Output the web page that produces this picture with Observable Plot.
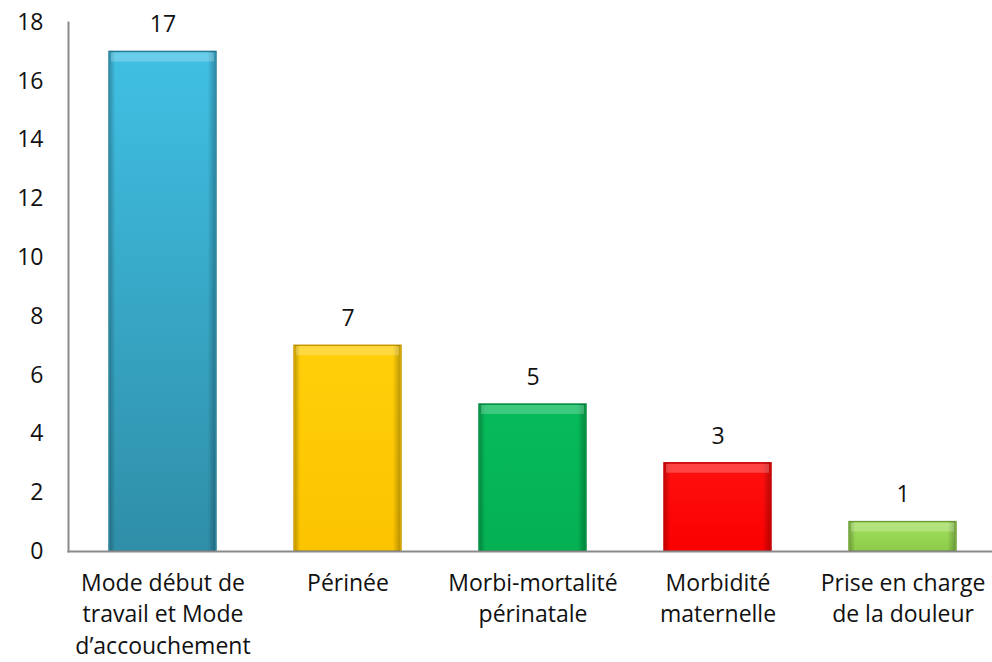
<!DOCTYPE html>
<html>
<head>
<meta charset="utf-8">
<script src="https://cdn.jsdelivr.net/npm/d3@7"></script>
<script src="https://cdn.jsdelivr.net/npm/@observablehq/plot@0.6"></script>
<style>
  html, body { margin: 0; padding: 0; background: #fff; }
  svg { display: block; }
</style>
</head>
<body>
<div id="chart"></div>
<script>
const categories = [
  "Mode début de\ntravail et Mode\nd’accouchement",
  "Périnée",
  "Morbi-mortalité\npérinatale",
  "Morbidité\nmaternelle",
  "Prise en charge\nde la douleur"
];
const values = [17, 7, 5, 3, 1];
const yTicks = [0, 2, 4, 6, 8, 10, 12, 14, 16, 18];
const gradTop = ["#40c0e4", "#ffcf0a", "#07bb5a", "#ff1010", "#a2e05e"];
const gradBottom = ["#2f8ea8", "#fcc400", "#04b052", "#fa0000", "#8ccc48"];
const strokes = ["#2a7f98", "#c99a00", "#058a42", "#c40000", "#6f9e36"];

const data = categories.map((c, i) => ({cat: c, value: values[i], i}));

const chart = Plot.plot({
  width: 992,
  height: 662,
  marginLeft: 68,
  marginRight: 0,
  marginTop: 22,
  marginBottom: 111,
  style: {fontFamily: "'Open Sans', Lato, sans-serif", fontSize: "23px", color: "#111", background: "#fff"},
  x: {domain: categories, paddingInner: 0.42, paddingOuter: 0.194, align: 0.54, label: null},
  y: {domain: [0, 18], label: null},
  marks: [
    Plot.barY(data, {
      x: "cat", y: "value",
      fill: d => `url(#g${d.i})`,
      stroke: d => strokes[d.i],
      strokeWidth: 1.5
    }),
    Plot.barY(data, {
      x: "cat", y: "value",
      fill: "url(#side)", insetLeft: 1, insetRight: 1
    }),
    Plot.tickY(data, {
      x: "cat", y: "value", stroke: "#fff", strokeOpacity: 0.22,
      strokeWidth: 9, dy: 5, insetLeft: 2, insetRight: 2
    }),
    Plot.text(data, {
      x: "cat", y: "value", text: d => String(d.value),
      dy: -27, fontSize: 23, fill: "#111"
    }),
    Plot.frame({anchor: "left", stroke: "#8a8a8a", strokeWidth: 2}),
    Plot.frame({anchor: "bottom", stroke: "#8a8a8a", strokeWidth: 2}),
    Plot.axisY({ticks: yTicks, tickSize: 0, tickPadding: 25, fontSize: 23, label: null, fill: "#111"}),
    Plot.axisX({tickSize: 0, tickPadding: 17, fontSize: 23, lineHeight: 1.37, label: null, fill: "#111", textAnchor: "middle"})
  ]
});

// gradient definitions for the bars
const ns = "http://www.w3.org/2000/svg";
const defs = document.createElementNS(ns, "defs");
function addGrad(id, x2, y2, stops) {
  const lg = document.createElementNS(ns, "linearGradient");
  lg.setAttribute("id", id);
  lg.setAttribute("x1", "0"); lg.setAttribute("y1", "0");
  lg.setAttribute("x2", x2); lg.setAttribute("y2", y2);
  stops.forEach(([o, c, op]) => {
    const s = document.createElementNS(ns, "stop");
    s.setAttribute("offset", o);
    s.setAttribute("stop-color", c);
    s.setAttribute("stop-opacity", op);
    lg.appendChild(s);
  });
  defs.appendChild(lg);
}
gradTop.forEach((top, i) => addGrad("g" + i, "0", "1", [[0, top, 1], [1, gradBottom[i], 1]]));
addGrad("side", "1", "0", [[0, "#000", 0.22], [0.05, "#000", 0], [0.93, "#000", 0], [1, "#000", 0.25]]);
chart.insertBefore(defs, chart.firstChild);

document.getElementById("chart").appendChild(chart);
</script>
</body>
</html>
